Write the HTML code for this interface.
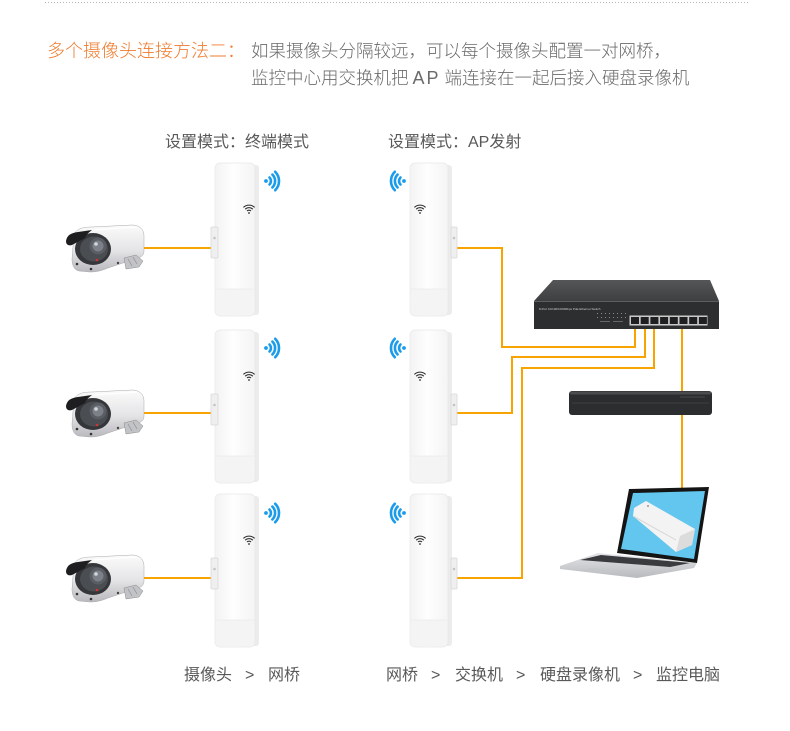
<!DOCTYPE html>
<html><head><meta charset="utf-8">
<style>
html,body{margin:0;padding:0;background:#fff;}
body{width:790px;height:731px;position:relative;overflow:hidden;}
.t{position:absolute;font-size:17.5px;line-height:1;white-space:nowrap;font-family:"Liberation Sans","Noto Sans CJK SC",sans-serif;color:#6b6b6b;font-weight:300;}
.ap{display:inline-block;width:36px;text-align:center;letter-spacing:2px;font-size:18px;}
.l{position:absolute;font-size:16px;line-height:1;white-space:nowrap;font-family:"Liberation Sans","Noto Sans CJK SC",sans-serif;color:#595959;}
svg{position:absolute;left:0;top:0;}
</style></head><body>
<svg width="790" height="731" viewBox="0 0 790 731">
<defs>
  <linearGradient id="br" x1="0" x2="1" y1="0" y2="0">
    <stop offset="0" stop-color="#f3f3f3"/><stop offset=".45" stop-color="#fefefe"/><stop offset="1" stop-color="#f4f4f4"/>
  </linearGradient>
  <linearGradient id="camg" x1="0" y1="0" x2="0" y2="1">
    <stop offset="0" stop-color="#fbfbfb"/><stop offset=".55" stop-color="#e4e4e6"/><stop offset="1" stop-color="#b9b9bd"/>
  </linearGradient>
  <linearGradient id="swtop" x1="0" y1="0" x2="0" y2="1">
    <stop offset="0" stop-color="#545658"/><stop offset="1" stop-color="#3d3f41"/>
  </linearGradient>
  <linearGradient id="base" x1="0" y1="0" x2="0" y2="1">
    <stop offset="0" stop-color="#e4e5e8"/><stop offset="1" stop-color="#b7b9bd"/>
  </linearGradient>
  <g id="wlogo" fill="none" stroke="#2b2b2b" stroke-width="1.1">
    <path d="M-2,-2 A2.8,2.8 0 0 1 2,-2"/>
    <path d="M-3.8,-3.8 A5.4,5.4 0 0 1 3.8,-3.8"/>
    <path d="M-5.6,-5.6 A8,8 0 0 1 5.6,-5.6"/>
    <circle cx="0" cy="0" r=".9" fill="#2b2b2b" stroke="none"/>
  </g>
  <g id="wblue" fill="none" stroke="#1b9ceb" stroke-width="2.6" stroke-linecap="round">
    <circle cx="0" cy="0" r="1.9" fill="#1b9ceb" stroke="none"/>
    <path d="M3.5,-3.5 A5,5 0 0 1 3.5,3.5"/>
    <path d="M6.4,-6.4 A9,9 0 0 1 6.4,6.4"/>
    <path d="M9.2,-9.2 A13,13 0 0 1 9.2,9.2"/>
  </g>
  <g id="b1">
    <rect x="36" y="2" width="8" height="150" rx="3" fill="#ececec"/>
    <rect x="0" y="0" width="40" height="153" rx="5" fill="url(#br)" stroke="#e8e8e8" stroke-width=".7"/>
    <rect x="0.6" y="126" width="38.8" height="26.4" rx="4" fill="#f4f4f4"/>
    <path d="M0.5,126 H39.5" stroke="#ebebeb" stroke-width=".7"/>
    <rect x="-4" y="64" width="7" height="31" rx="1" fill="#efefef" stroke="#d6d6d6" stroke-width=".7"/>
    <circle cx="-0.5" cy="75" r="1.3" fill="#c4c4c4"/>
    <use href="#wlogo" x="34" y="50"/>
  </g>
  <g id="b2">
    <rect x="34" y="2" width="8" height="150" rx="3" fill="#ececec"/>
    <rect x="0" y="0" width="38" height="153" rx="5" fill="url(#br)" stroke="#e8e8e8" stroke-width=".7"/>
    <rect x="0.6" y="126" width="36.8" height="26.4" rx="4" fill="#f4f4f4"/>
    <path d="M0.5,126 H37.5" stroke="#ebebeb" stroke-width=".7"/>
    <rect x="41" y="64" width="6" height="31" rx="1" fill="#efefef" stroke="#d6d6d6" stroke-width=".7"/>
    <circle cx="44" cy="75" r="1.3" fill="#c4c4c4"/>
    <use href="#wlogo" x="10" y="50"/>
  </g>
  <g id="cam">
    <path d="M8,10 C10,4 16,2 26,2 L66,0 C73,0 78,4 78,11 L78,26 C78,31 74,33 69,34 L42,43 C35,46 30,47 24,47 L13,46 C8,45 6,40 6,34 Z" fill="url(#camg)" stroke="#a9a9ad" stroke-width=".5"/>
    <path d="M28,5 L70,2" stroke="#fff" stroke-width="1.2"/>
    <ellipse cx="27" cy="24" rx="18" ry="16" fill="#34363a"/>
    <ellipse cx="28" cy="24" rx="14" ry="12.5" fill="#4a4d52"/>
    <path d="M0,16 C1,10 5,8 12,7 L26,5 C22,8 20,10 19,13 L6,20 C3,21 0,20 0,16 Z" fill="#1e1e20"/>
    <circle cx="32" cy="21" r="8.5" fill="#5a5d63"/>
    <circle cx="32" cy="21" r="5.5" fill="#7c8189"/>
    <circle cx="30" cy="19" r="1.8" fill="#d3d7dc"/>
    <circle cx="31" cy="35" r="1.3" fill="#cc3333"/>
    <circle cx="11" cy="39" r="1.3" fill="#333"/>
    <circle cx="25" cy="44" r="1.3" fill="#333"/>
    <circle cx="52" cy="38" r="1.2" fill="#444"/>
    <path d="M58,33 L70,30 L77,36 L73,42 L60,44 Z" fill="#c2c3c6" stroke="#8a8a8e" stroke-width=".5"/>
    <path d="M62,34 L66,41 M67,32 L71,39" stroke="#8a8a8e" stroke-width=".6"/>
  </g>
</defs>

<!-- top dotted line -->
<line x1="45" y1="2.5" x2="750" y2="2.5" stroke="#b5b5b5" stroke-width="1" stroke-dasharray="1,2"/>

<!-- orange connectors -->
<g fill="none" stroke="#f7a300" stroke-width="2">
  <path d="M143,248 H212"/>
  <path d="M143,413 H212"/>
  <path d="M143,578 H212"/>
  <path d="M457,248 H502 V347 H635 V322"/>
  <path d="M457,413 H512 V357 H645 V322"/>
  <path d="M457,578 H522 V368 H654 V322"/>
  <path d="M682,322 V392"/>
  <path d="M682,414 V489"/>
</g>

<!-- cameras -->
<use href="#cam" x="66" y="225"/>
<use href="#cam" x="66" y="390"/>
<use href="#cam" x="66" y="555"/>

<!-- bridges col1 -->
<use href="#b1" x="215" y="163"/>
<use href="#b1" x="215" y="330"/>
<use href="#b1" x="215" y="494"/>
<!-- bridges col2 -->
<use href="#b2" x="410" y="163"/>
<use href="#b2" x="410" y="330"/>
<use href="#b2" x="410" y="494"/>

<!-- blue wifi signals -->
<use href="#wblue" x="266" y="181"/>
<use href="#wblue" x="266" y="348"/>
<use href="#wblue" x="266" y="513"/>
<use href="#wblue" transform="translate(404,181) scale(-1,1)"/>
<use href="#wblue" transform="translate(404,348) scale(-1,1)"/>
<use href="#wblue" transform="translate(404,513) scale(-1,1)"/>

<!-- switch -->
<polygon points="553,280 710,280 719,301 534,301" fill="url(#swtop)"/>
<rect x="534" y="301" width="185" height="28" fill="#2d2e30"/>
<line x1="534" y1="301.5" x2="719" y2="301.5" stroke="#5c5e60" stroke-width="1"/>
<text x="539" y="310" font-family="Liberation Sans, sans-serif" font-size="3" fill="#cfcfcf">8-Port 10/100/1000Mbps PoE Ethernet Switch</text>
<g fill="#8a8a8a">
  <rect x="597" y="313" width="1" height="1"/><rect x="601" y="313" width="1" height="1"/><rect x="605" y="313" width="1" height="1"/><rect x="609" y="313" width="1" height="1"/><rect x="613" y="313" width="1" height="1"/><rect x="617" y="313" width="1" height="1"/><rect x="621" y="313" width="1" height="1"/><rect x="625" y="313" width="1" height="1"/>
  <rect x="597" y="317" width="1" height="1"/><rect x="601" y="317" width="1" height="1"/><rect x="605" y="317" width="1" height="1"/><rect x="609" y="317" width="1" height="1"/><rect x="613" y="317" width="1" height="1"/><rect x="617" y="317" width="1" height="1"/><rect x="621" y="317" width="1" height="1"/><rect x="625" y="317" width="1" height="1"/>
  <rect x="600" y="321" width="10" height=".6"/><rect x="613" y="321" width="10" height=".6"/>
</g>
<rect x="629.5" y="315.5" width="78" height="10" fill="#c9c9c9"/>
<g fill="#1f1f21">
  <rect x="631" y="317" width="8" height="7"/><rect x="640.7" y="317" width="8" height="7"/><rect x="650.4" y="317" width="8" height="7"/><rect x="660.1" y="317" width="8" height="7"/>
  <rect x="669.8" y="317" width="8" height="7"/><rect x="679.5" y="317" width="8" height="7"/><rect x="689.2" y="317" width="8" height="7"/><rect x="698.9" y="317" width="8" height="7"/>
</g>

<!-- NVR -->
<rect x="569" y="391" width="143" height="24" rx="3" fill="#2b2d2f"/>
<rect x="570" y="391.5" width="141" height="3" rx="1.5" fill="#4a4c4e"/>
<line x1="572" y1="403" x2="709" y2="403" stroke="#3c3e40" stroke-width="1"/>
<line x1="680" y1="397" x2="705" y2="397" stroke="#555" stroke-width=".8"/>

<!-- laptop -->
<polygon points="560,566 598,553 697,563 694,568 637,578 560,569" fill="url(#base)"/>
<polygon points="601,555 690,563 670,567 580,560" fill="#3a3b3e"/>
<polygon points="590,568 615,571 605,573 583,570" fill="#c4c6ca"/>
<polygon points="629,489 709,487 697,563 617,553" fill="#141414"/>
<polygon points="633,493 705,491 694,559 621,549" fill="#63c6ee"/>
<polygon points="634,508 646,501 695,529 692,545 676,552 633,516" fill="#f3f3f3"/>
<polygon points="676,552 692,545 695,529 680,536" fill="#dcdcdc"/>
<line x1="633" y1="516" x2="676" y2="540" stroke="#d6d6d6" stroke-width="1"/>
<circle cx="648" cy="506" r="1" fill="#999"/>
</svg>

<div class="t" style="left:47px;top:42px;color:#ee7b2e;font-size:18px;">多个摄像头连接方法二：</div>
<div class="t" style="left:251px;top:43px;">如果摄像头分隔较远，可以每个摄像头配置一对网桥，</div>
<div class="t" style="left:251px;top:69px;">监控中心用交换机把<span class="ap">AP</span>端连接在一起后接入硬盘录像机</div>

<div class="l" style="left:165px;top:135px;">设置模式：终端模式</div>
<div class="l" style="left:388px;top:135px;">设置模式：AP发射</div>

<div class="l" style="left:184px;top:668px;">摄像头</div>
<div class="l" style="left:245px;top:668px;">&gt;</div>
<div class="l" style="left:268px;top:668px;">网桥</div>
<div class="l" style="left:386px;top:668px;">网桥</div>
<div class="l" style="left:431px;top:668px;">&gt;</div>
<div class="l" style="left:455px;top:668px;">交换机</div>
<div class="l" style="left:516px;top:668px;">&gt;</div>
<div class="l" style="left:540px;top:668px;">硬盘录像机</div>
<div class="l" style="left:633px;top:668px;">&gt;</div>
<div class="l" style="left:656px;top:668px;">监控电脑</div>
</body></html>
